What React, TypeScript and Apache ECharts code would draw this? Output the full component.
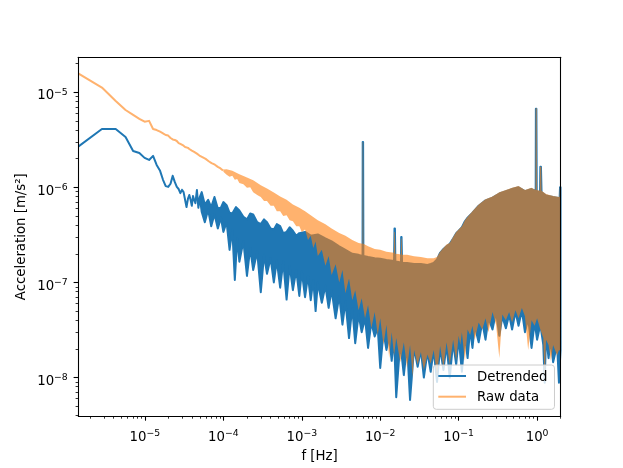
import React, { useEffect, useRef } from 'react';
import * as echarts from 'echarts';

// ---------- Detrended (blue) ----------
// clean low-frequency part [f (Hz), acceleration (m/s^2)]
const detrendedLine: number[][] = [
  [1.41e-6, 2.68e-6], [2.83e-6, 4.1e-6], [4.24e-6, 4.1e-6], [5.66e-6, 3.39e-6], [7.07e-6, 2.41e-6],
  [8.49e-6, 2.3e-6], [9.9e-6, 2.04e-6], [1.13e-5, 1.94e-6], [1.27e-5, 2.14e-6], [1.41e-5, 1.72e-6],
  [1.56e-5, 1.49e-6], [1.7e-5, 1.2e-6], [1.84e-5, 1.03e-6], [1.98e-5, 1.01e-6], [2.12e-5, 1.09e-6],
  [2.26e-5, 1.32e-6], [2.4e-5, 1.14e-6], [2.55e-5, 1.01e-6], [2.69e-5, 9.6e-7], [2.83e-5, 8.7e-7],
  [2.97e-5, 9.4e-7], [3.11e-5, 8.9e-7], [3.25e-5, 7.4e-7], [3.39e-5, 6.2e-7], [3.54e-5, 7.6e-7],
  [3.68e-5, 8.3e-7], [3.82e-5, 7.4e-7], [3.96e-5, 6.4e-7], [4.1e-5, 8.1e-7], [4.24e-5, 7.4e-7],
  [4.4e-5, 6.8e-7], [4.6e-5, 9.4e-7], [4.8e-5, 6.1e-7], [5.0e-5, 7.9e-7],
];
// upper envelope of the dense noisy band
const detrendedUpper: number[][] = [
  [5.3e-5, 8.9e-7], [5.8e-5, 6.6e-7], [6.4e-5, 7.4e-7], [7.0e-5, 6.2e-7], [7.7e-5, 7.9e-7],
  [8.5e-5, 6.0e-7], [9.3e-5, 6.1e-7], [1.0e-4, 7.0e-7], [1.1e-4, 6.5e-7], [1.2e-4, 5.4e-7],
  [1.3e-4, 5.3e-7], [1.45e-4, 6.2e-7], [1.6e-4, 5.7e-7], [1.8e-4, 4.9e-7], [2.0e-4, 4.6e-7],
  [2.2e-4, 5.3e-7], [2.4e-4, 5.2e-7], [2.7e-4, 4.3e-7], [3.0e-4, 4.1e-7], [3.3e-4, 4.6e-7],
  [3.6e-4, 4.3e-7], [4.0e-4, 3.7e-7], [4.4e-4, 3.6e-7], [4.8e-4, 4.1e-7], [5.3e-4, 3.9e-7],
  [5.8e-4, 3.3e-7], [6.4e-4, 3.4e-7], [7.0e-4, 3.8e-7], [7.7e-4, 3.5e-7], [8.5e-4, 3.1e-7],
  [9.3e-4, 3.3e-7], [1.1e-3, 3.4e-7], [1.3e-3, 3.1e-7], [1.6e-3, 3.2e-7], [2.0e-3, 2.9e-7],
  [2.4e-3, 2.7e-7], [3.0e-3, 2.4e-7], [3.6e-3, 2.2e-7], [4.4e-3, 2.0e-7], [5.3e-3, 1.95e-7],
  [5.95e-3, 1.9e-7], [5.98e-3, 3.0e-6], [6.05e-3, 3.0e-6], [6.1e-3, 1.9e-7], [7.0e-3, 1.85e-7],
  [8.5e-3, 1.8e-7], [1.0e-2, 1.77e-7], [1.2e-2, 1.72e-7], [1.5e-2, 1.68e-7], [1.52e-2, 3.7e-7],
  [1.54e-2, 3.7e-7], [1.56e-2, 1.66e-7], [1.7e-2, 1.64e-7], [1.84e-2, 1.62e-7], [1.85e-2, 3.0e-7],
  [1.87e-2, 3.0e-7], [1.9e-2, 1.6e-7], [2.2e-2, 1.6e-7], [2.7e-2, 1.56e-7], [3.3e-2, 1.56e-7],
  [4.0e-2, 1.53e-7], [4.4e-2, 1.56e-7], [4.8e-2, 1.6e-7], [5.3e-2, 1.75e-7], [5.8e-2, 2.05e-7],
  [6.4e-2, 2.25e-7], [7.0e-2, 2.4e-7], [7.7e-2, 2.55e-7], [8.5e-2, 2.9e-7], [9.3e-2, 3.3e-7],
  [1.0e-1, 3.5e-7], [1.1e-1, 3.8e-7], [1.2e-1, 4.4e-7], [1.3e-1, 4.8e-7], [1.5e-1, 5.4e-7],
  [1.8e-1, 6.4e-7], [2.2e-1, 7.3e-7], [2.7e-1, 7.8e-7], [3.3e-1, 8.6e-7], [4.0e-1, 9.1e-7],
  [4.8e-1, 9.6e-7], [5.8e-1, 1.0e-6], [7.0e-1, 9.1e-7], [8.5e-1, 9.6e-7], [9.6e-1, 9.1e-7],
  [9.65e-1, 6.7e-6], [9.8e-1, 6.7e-6], [9.9e-1, 9.1e-7], [1.09, 8.9e-7], [1.1, 1.65e-6],
  [1.12, 1.65e-6], [1.14, 8.9e-7], [1.3, 8.2e-7], [1.6, 7.9e-7], [1.94, 7.7e-7],
  [1.96, 1.0e-6], [1.99, 1.0e-6],
];
// lower envelope (downward spikes) of the dense noisy band
const detrendedLower: number[][] = [
  [5.3e-5, 5.5e-7], [5.8e-5, 4.3e-7], [6.4e-5, 5.8e-7], [7.0e-5, 3.9e-7], [7.7e-5, 5.2e-7],
  [8.5e-5, 3.7e-7], [9.3e-5, 4.8e-7], [1.0e-4, 3.4e-7], [1.1e-4, 4.3e-7], [1.2e-4, 2.2e-7],
  [1.3e-4, 3.6e-7], [1.4e-4, 1.06e-7], [1.5e-4, 2.9e-7], [1.6e-4, 1.65e-7], [1.8e-4, 2.7e-7],
  [2.0e-4, 1.17e-7], [2.2e-4, 2.3e-7], [2.4e-4, 1.35e-7], [2.7e-4, 2.1e-7], [3.0e-4, 7.9e-8],
  [3.3e-4, 1.95e-7], [3.6e-4, 1.23e-7], [4.0e-4, 1.8e-7], [4.4e-4, 1.0e-7], [4.8e-4, 1.7e-7],
  [5.3e-4, 8.8e-8], [5.8e-4, 1.65e-7], [6.4e-4, 6.6e-8], [7.0e-4, 1.5e-7], [7.7e-4, 8.3e-8],
  [8.5e-4, 1.35e-7], [9.3e-4, 7.2e-8], [1.0e-3, 1.3e-7], [1.1e-3, 7.0e-8], [1.2e-3, 1.17e-7],
  [1.3e-3, 6.5e-8], [1.4e-3, 1.06e-7], [1.5e-3, 5.0e-8], [1.6e-3, 9.9e-8], [1.8e-3, 6.1e-8],
  [2.0e-3, 9.2e-8], [2.2e-3, 5.4e-8], [2.4e-3, 8.3e-8], [2.7e-3, 4.2e-8], [3.0e-3, 7.2e-8],
  [3.3e-3, 3.6e-8], [3.6e-3, 6.3e-8], [4.0e-3, 2.6e-8], [4.4e-3, 5.4e-8], [4.8e-3, 2.3e-8],
  [5.3e-3, 4.6e-8], [5.8e-3, 3.0e-8], [6.4e-3, 4.2e-8], [7.0e-3, 2.05e-8], [7.7e-3, 3.8e-8],
  [8.5e-3, 2.7e-8], [9.3e-3, 3.3e-8], [1.0e-2, 1.26e-8], [1.1e-2, 3.0e-8], [1.2e-2, 1.95e-8],
  [1.3e-2, 2.7e-8], [1.4e-2, 1.5e-8], [1.5e-2, 2.6e-8], [1.6e-2, 6.2e-9], [1.8e-2, 2.35e-8],
  [2.0e-2, 1.06e-8], [2.2e-2, 2.2e-8], [2.4e-2, 5.8e-9], [2.7e-2, 2.05e-8], [3.0e-2, 1.3e-8],
  [3.3e-2, 1.95e-8], [3.6e-2, 1.0e-8], [4.0e-2, 1.85e-8], [4.4e-2, 1.15e-8], [4.8e-2, 1.95e-8],
  [5.3e-2, 9.0e-9], [5.8e-2, 2.05e-8], [6.4e-2, 1.2e-8], [7.0e-2, 2.2e-8], [7.7e-2, 1.0e-8],
  [8.5e-2, 2.35e-8], [9.3e-2, 1.36e-8], [1.0e-1, 2.6e-8], [1.1e-1, 1.15e-8], [1.2e-1, 2.8e-8],
  [1.3e-1, 1.6e-8], [1.4e-1, 3.2e-8], [1.5e-1, 2.05e-8], [1.6e-1, 3.5e-8], [1.8e-1, 2.35e-8],
  [2.0e-1, 3.8e-8], [2.2e-1, 2.5e-8], [2.4e-1, 4.2e-8], [2.7e-1, 3.2e-8], [3.0e-1, 4.9e-8],
  [3.3e-1, 2.75e-8], [3.6e-1, 4.4e-8], [4.0e-1, 3.3e-8], [4.4e-1, 4.6e-8], [4.8e-1, 3.2e-8],
  [5.3e-1, 4.9e-8], [5.8e-1, 3.5e-8], [6.4e-1, 5.1e-8], [7.0e-1, 3.0e-8], [7.7e-1, 4.2e-8],
  [8.5e-1, 2.05e-8], [9.3e-1, 3.8e-8], [1.0, 2.5e-8], [1.1, 3.6e-8], [1.2, 2.2e-8],
  [1.25, 8.8e-9], [1.3, 2.8e-8], [1.4, 1.6e-8], [1.5, 2.5e-8], [1.6, 1.45e-8],
  [1.8, 2.2e-8], [1.9, 8.8e-9], [1.99, 1.95e-8],
];

// ---------- Raw data (orange, alpha 0.6) ----------
const rawLine: number[][] = [
  [1.41e-6, 1.58e-5], [2.83e-6, 1.12e-5], [4.24e-6, 8.1e-6], [5.66e-6, 6.5e-6], [7.07e-6, 5.77e-6],
  [8.49e-6, 5.25e-6], [9.9e-6, 4.9e-6], [1.13e-5, 5.0e-6], [1.27e-5, 4.1e-6], [1.41e-5, 4.0e-6],
  [1.56e-5, 3.85e-6], [1.7e-5, 3.7e-6], [1.84e-5, 3.55e-6], [1.98e-5, 3.5e-6], [2.12e-5, 3.3e-6],
  [2.26e-5, 3.19e-6], [2.4e-5, 3.15e-6], [2.55e-5, 3.07e-6], [2.69e-5, 2.92e-6], [2.83e-5, 2.86e-6],
  [3.11e-5, 2.74e-6], [3.25e-5, 2.66e-6], [3.54e-5, 2.6e-6], [3.68e-5, 2.53e-6], [3.96e-5, 2.43e-6],
  [4.24e-5, 2.36e-6], [4.6e-5, 2.26e-6], [4.95e-5, 2.16e-6], [5.4e-5, 2.08e-6], [5.94e-5, 1.99e-6],
  [6.5e-5, 1.88e-6], [7.07e-5, 1.8e-6], [7.8e-5, 1.73e-6], [8.49e-5, 1.64e-6], [9.2e-5, 1.58e-6],
  [9.9e-5, 1.5e-6],
];
const rawUpper: number[][] = [
  [1.0e-4, 1.54e-6], [1.1e-4, 1.55e-6], [1.3e-4, 1.49e-6], [1.6e-4, 1.37e-6], [2.0e-4, 1.27e-6],
  [2.4e-4, 1.19e-6], [3.0e-4, 1.05e-6], [3.6e-4, 9.7e-7], [4.4e-4, 8.8e-7], [5.3e-4, 8.0e-7],
  [6.4e-4, 7.4e-7], [7.7e-4, 6.6e-7], [9.3e-4, 6.1e-7], [1.1e-3, 5.6e-7], [1.3e-3, 5.1e-7],
  [1.6e-3, 4.5e-7], [2.0e-3, 4.1e-7], [2.4e-3, 3.7e-7], [3.0e-3, 3.3e-7], [3.6e-3, 3.1e-7],
  [4.4e-3, 2.8e-7], [5.3e-3, 2.6e-7], [5.94e-3, 2.55e-7], [5.97e-3, 3.0e-6], [6.06e-3, 3.0e-6],
  [6.1e-3, 2.55e-7], [7.0e-3, 2.4e-7], [8.5e-3, 2.25e-7], [1.0e-2, 2.2e-7], [1.2e-2, 2.1e-7],
  [1.49e-2, 2.05e-7], [1.51e-2, 3.4e-7], [1.54e-2, 3.4e-7], [1.56e-2, 2.0e-7], [1.7e-2, 1.99e-7],
  [1.83e-2, 1.97e-7], [1.85e-2, 2.9e-7], [1.88e-2, 2.9e-7], [1.9e-2, 1.95e-7], [2.2e-2, 1.95e-7],
  [2.7e-2, 1.88e-7], [3.3e-2, 1.85e-7], [4.0e-2, 1.8e-7], [4.8e-2, 1.8e-7], [5.3e-2, 1.85e-7],
  [5.8e-2, 2.1e-7], [6.4e-2, 2.3e-7], [7.0e-2, 2.5e-7], [7.7e-2, 2.6e-7], [8.5e-2, 3.0e-7],
  [9.3e-2, 3.4e-7], [1.0e-1, 3.6e-7], [1.1e-1, 3.9e-7], [1.2e-1, 4.5e-7], [1.3e-1, 4.9e-7],
  [1.5e-1, 5.6e-7], [1.8e-1, 6.6e-7], [2.2e-1, 7.5e-7], [2.7e-1, 8.0e-7], [3.3e-1, 8.9e-7],
  [4.0e-1, 9.4e-7], [4.8e-1, 9.9e-7], [5.8e-1, 1.03e-6], [7.0e-1, 9.4e-7], [8.5e-1, 9.9e-7],
  [9.55e-1, 9.4e-7], [9.6e-1, 6.8e-6], [9.9e-1, 6.8e-6], [9.95e-1, 9.4e-7], [1.08, 9.2e-7],
  [1.09, 1.65e-6], [1.13, 1.65e-6], [1.14, 9.2e-7], [1.3, 8.5e-7], [1.6, 8.1e-7],
  [1.93, 7.9e-7], [1.95, 1.0e-6], [2.0, 1.0e-6],
];
const rawLower: number[][] = [
  [1.0e-4, 1.46e-6], [1.1e-4, 1.36e-6], [1.2e-4, 1.29e-6], [1.3e-4, 1.32e-6], [1.4e-4, 1.2e-6],
  [1.5e-4, 1.22e-6], [1.6e-4, 1.11e-6], [1.8e-4, 1.08e-6], [2.0e-4, 9.9e-7], [2.2e-4, 1.0e-6],
  [2.4e-4, 8.9e-7], [2.7e-4, 8.3e-7], [3.0e-4, 7.9e-7], [3.3e-4, 7.2e-7], [3.6e-4, 7.2e-7],
  [4.0e-4, 6.4e-7], [4.4e-4, 6.4e-7], [4.8e-4, 5.6e-7], [5.3e-4, 5.6e-7], [5.8e-4, 5.0e-7],
  [6.4e-4, 5.1e-7], [7.0e-4, 4.5e-7], [7.7e-4, 4.4e-7], [8.5e-4, 3.9e-7], [9.3e-4, 3.9e-7],
  [1.0e-3, 3.4e-7], [1.1e-3, 3.6e-7], [1.2e-3, 2.8e-7], [1.3e-3, 3.1e-7], [1.4e-3, 2.3e-7],
  [1.5e-3, 2.7e-7], [1.6e-3, 1.9e-7], [1.8e-3, 2.2e-7], [2.0e-3, 1.5e-7], [2.2e-3, 1.9e-7],
  [2.4e-3, 1.2e-7], [2.7e-3, 1.55e-7], [3.0e-3, 1.0e-7], [3.3e-3, 1.35e-7], [3.6e-3, 7.7e-8],
  [4.0e-3, 1.1e-7], [4.4e-3, 6.5e-8], [4.8e-3, 8.3e-8], [5.3e-3, 5.1e-8], [5.8e-3, 6.8e-8],
  [6.4e-3, 4.2e-8], [7.0e-3, 5.8e-8], [7.7e-3, 3.3e-8], [8.5e-3, 4.9e-8], [9.3e-3, 2.8e-8],
  [1.0e-2, 4.2e-8], [1.1e-2, 2.2e-8], [1.2e-2, 3.6e-8], [1.3e-2, 1.6e-8], [1.4e-2, 3.0e-8],
  [1.5e-2, 1.7e-8], [1.6e-2, 2.6e-8], [1.8e-2, 1.45e-8], [2.0e-2, 2.35e-8], [2.2e-2, 1.26e-8],
  [2.4e-2, 2.2e-8], [2.6e-2, 1.0e-8], [2.7e-2, 1.95e-8], [3.0e-2, 1.36e-8], [3.3e-2, 1.85e-8],
  [3.6e-2, 1.2e-8], [4.0e-2, 1.75e-8], [4.4e-2, 1.4e-8], [4.8e-2, 1.95e-8], [5.3e-2, 1.06e-8],
  [5.8e-2, 2.15e-8], [6.4e-2, 1.26e-8], [7.0e-2, 2.35e-8], [7.7e-2, 1.36e-8], [8.5e-2, 2.5e-8],
  [9.3e-2, 1.5e-8], [1.0e-1, 2.75e-8], [1.05e-1, 2.2e-8], [1.1e-1, 3.0e-8], [1.2e-1, 1.5e-8],
  [1.3e-1, 3.2e-8], [1.4e-1, 2.8e-8], [1.5e-1, 3.5e-8], [1.6e-1, 2.5e-8], [1.8e-1, 3.8e-8],
  [2.0e-1, 3.2e-8], [2.2e-1, 4.2e-8], [2.4e-1, 3.0e-8], [2.7e-1, 4.9e-8], [3.0e-1, 3.6e-8],
  [3.3e-1, 1.6e-8], [3.6e-1, 4.6e-8], [4.0e-1, 4.0e-8], [4.4e-1, 4.9e-8], [4.8e-1, 3.8e-8],
  [5.3e-1, 5.1e-8], [5.8e-1, 4.2e-8], [6.4e-1, 5.4e-8], [7.0e-1, 4.4e-8], [7.7e-1, 1.95e-8],
  [8.5e-1, 4.0e-8], [9.3e-1, 3.5e-8], [1.0, 4.2e-8], [1.1, 3.2e-8], [1.2, 2.6e-8],
  [1.25, 8.8e-9], [1.3, 2.5e-8], [1.4, 2.2e-8], [1.5, 1.5e-8], [1.6, 2.2e-8],
  [1.8, 1.7e-8], [1.9, 1.95e-8], [2.0, 1.9e-8],
];

// ---------- axes ----------
const xRange = [1.414e-6, 2];
const yRange = [3.94e-9, 2.33e-5];
const xMajorTicks = [1e-5, 1e-4, 1e-3, 1e-2, 1e-1, 1];
const yMajorTicks = [1e-8, 1e-7, 1e-6, 1e-5];
const minorMantissas = [2, 3, 4, 5, 6, 7, 8, 9];
const xMinorDecades = [1e-6, 1e-5, 1e-4, 1e-3, 1e-2, 1e-1, 1];
const yMinorDecades = [1e-9, 1e-8, 1e-7, 1e-6, 1e-5];

const FONT = 'DejaVu Sans';
const BLUE = '#1f77b4';
const ORANGE = '#ff7f0e';

const minorOf = (decades: number[]) => {
  const out: number[] = [];
  decades.forEach((d) => minorMantissas.forEach((m) => out.push(Number((m * d).toPrecision(3)))));
  return out;
};

const powLabel = (value: number) => {
  const e = Math.round(Math.log10(value));
  return e < 0 ? `{a|10}{b|\u2212${-e}}` : `{a|10}{b|${e}}`;
};

const tickRich = {
  a: { fontSize: 13.3, lineHeight: 16, fontFamily: FONT, color: '#000' },
  b: { fontSize: 9.3, lineHeight: 9, verticalAlign: 'top', fontFamily: FONT, color: '#000' },
};

export default function App() {
  const ref = useRef<HTMLDivElement>(null);

  useEffect(() => {
    if (!ref.current) return;
    const chart = echarts.init(ref.current, null, { renderer: 'svg' });

    const bluePoly = [
      ...detrendedLine,
      ...detrendedUpper,
      ...detrendedLower.slice().reverse(),
      ...detrendedLine.slice().reverse(),
    ];
    const orangeBand = [...rawUpper, ...rawLower.slice().reverse()];

    const lineAxis = (pos: string) => ({
      type: 'log',
      logBase: 10,
      position: pos,
      z: 10,
      axisLine: { show: true, onZero: false, lineStyle: { color: '#000', width: 1.08 } },
      axisTick: { show: false },
      axisLabel: { show: false },
      splitLine: { show: false },
    });

    const option: any = {
      animation: false,
      textStyle: { fontFamily: FONT },
      grid: {
        left: 78.3,
        top: 57.3,
        width: 482.4,
        height: 358.7,
        outerBoundsMode: 'none',
        containLabel: false,
      },
      legend: {
        orient: 'vertical',
        left: 433.3,
        top: 365,
        padding: [3, 7, 4.6, 5],
        itemGap: 4.7,
        itemWidth: 27.7,
        itemHeight: 2,
        icon: 'rect',
        selectedMode: false,
        backgroundColor: 'rgba(255,255,255,0.8)',
        borderColor: '#cccccc',
        borderWidth: 1,
        borderRadius: 3,
        textStyle: { fontFamily: FONT, fontSize: 13.3, color: '#000', lineHeight: 16, padding: [0, 0, 0, 6] },
        data: [
          { name: 'Detrended', itemStyle: { color: BLUE } },
          { name: 'Raw data', itemStyle: { color: ORANGE, opacity: 0.6 } },
        ],
      },
      xAxis: [
        {
          type: 'log',
          logBase: 10,
          min: xRange[0],
          max: xRange[1],
          position: 'bottom',
          z: 10,
          axisLine: { show: true, onZero: false, lineStyle: { color: '#000', width: 1.08 } },
          axisTick: { show: true, customValues: xMajorTicks, length: 4.7, lineStyle: { color: '#000', width: 1.08 } },
          axisLabel: { show: true, customValues: xMajorTicks, formatter: powLabel, margin: 12, rich: tickRich, color: '#000' },
          splitLine: { show: false },
        },
        {
          type: 'log',
          logBase: 10,
          min: xRange[0],
          max: xRange[1],
          position: 'bottom',
          z: 10,
          axisLine: { show: false },
          axisTick: { show: true, customValues: minorOf(xMinorDecades), length: 2.7, lineStyle: { color: '#000', width: 0.8 } },
          axisLabel: { show: false },
          splitLine: { show: false },
        },
        { ...lineAxis('top'), min: xRange[0], max: xRange[1] },
      ],
      yAxis: [
        {
          type: 'log',
          logBase: 10,
          min: yRange[0],
          max: yRange[1],
          position: 'left',
          z: 10,
          axisLine: { show: true, onZero: false, lineStyle: { color: '#000', width: 1.08 } },
          axisTick: { show: true, customValues: yMajorTicks, length: 4.7, lineStyle: { color: '#000', width: 1.08 } },
          axisLabel: {
            show: true,
            customValues: yMajorTicks,
            formatter: powLabel,
            margin: 10.5,
            padding: [5.4, 0, 0, 0],
            rich: tickRich,
            color: '#000',
          },
          splitLine: { show: false },
        },
        {
          type: 'log',
          logBase: 10,
          min: yRange[0],
          max: yRange[1],
          position: 'left',
          z: 10,
          axisLine: { show: false },
          axisTick: { show: true, customValues: minorOf(yMinorDecades), length: 2.7, lineStyle: { color: '#000', width: 0.8 } },
          axisLabel: { show: false },
          splitLine: { show: false },
        },
        { ...lineAxis('right'), min: yRange[0], max: yRange[1] },
      ],
      graphic: [
        {
          type: 'text',
          x: 319.5,
          y: 455.4,
          style: { text: 'f [Hz]', fontFamily: FONT, fontSize: 13.3, fill: '#000', textAlign: 'center', textVerticalAlign: 'middle' },
        },
        {
          type: 'text',
          x: 20.4,
          y: 236.7,
          rotation: Math.PI / 2,
          style: {
            text: 'Acceleration [m/s\u00b2]',
            fontFamily: FONT,
            fontSize: 13.3,
            fill: '#000',
            textAlign: 'center',
            textVerticalAlign: 'middle',
          },
        },
      ],
      series: [
        {
          type: 'custom',
          name: 'Detrended',
          coordinateSystem: 'cartesian2d',
          xAxisIndex: 0,
          yAxisIndex: 0,
          clip: true,
          silent: true,
          z: 2,
          data: bluePoly,
          renderItem: (params: any, api: any) => {
            if (params.dataIndex !== 0) return null;
            return {
              type: 'polygon',
              shape: { points: bluePoly.map((p) => api.coord(p)) },
              style: { fill: BLUE, stroke: BLUE, lineWidth: 2, lineJoin: 'round' },
            };
          },
        },
        {
          type: 'custom',
          name: 'Raw data',
          coordinateSystem: 'cartesian2d',
          xAxisIndex: 0,
          yAxisIndex: 0,
          clip: true,
          silent: true,
          z: 3,
          data: [...rawLine, ...orangeBand],
          renderItem: (params: any, api: any) => {
            if (params.dataIndex !== 0) return null;
            return {
              type: 'group',
              children: [
                {
                  type: 'polyline',
                  shape: { points: rawLine.map((p) => api.coord(p)) },
                  style: { fill: 'none', stroke: ORANGE, lineWidth: 2, lineJoin: 'round', opacity: 0.6 },
                },
                {
                  type: 'polygon',
                  shape: { points: orangeBand.map((p) => api.coord(p)) },
                  style: { fill: ORANGE, stroke: 'none', opacity: 0.6 },
                },
              ],
            };
          },
        },
      ],
    };

    chart.setOption(option);
    return () => chart.dispose();
  }, []);

  return <div ref={ref} style={{ position: 'fixed', left: 0, top: 0, width: 623, height: 468 }} />;
}
